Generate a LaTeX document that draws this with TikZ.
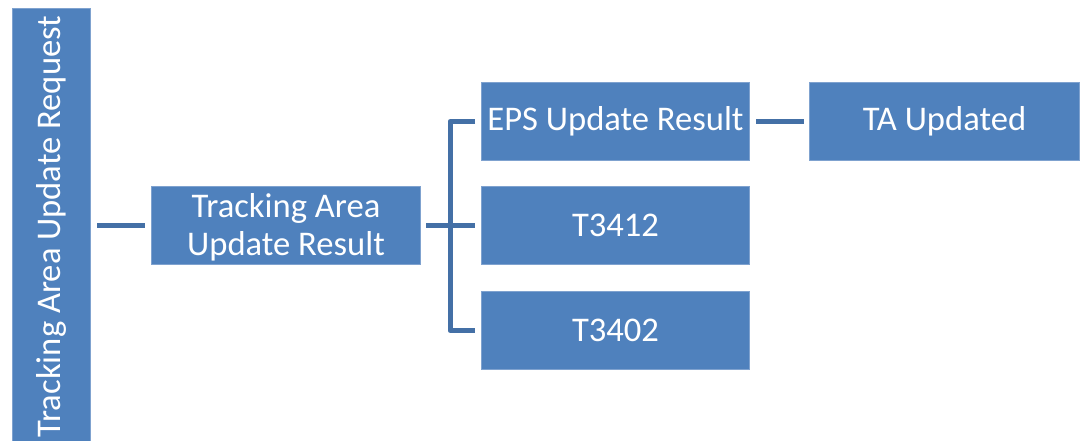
\documentclass[tikz,border=0pt]{standalone}
\usepackage{fontspec}
\setmainfont{Carlito}
\definecolor{boxblue}{HTML}{4F81BD}
\definecolor{boxedge}{HTML}{7FA2CF}
\definecolor{linkblue}{HTML}{4470A6}
\begin{document}
\begin{tikzpicture}[x=1pt,y=-1pt,
  blk/.style={fill=boxblue,draw=boxedge,line width=1pt,text=white,inner sep=0pt,
    font=\fontsize{34.6}{38}\selectfont,align=center},
  link/.style={draw=linkblue,line width=5pt}]
\useasboundingbox (0,0) rectangle (1080,440);
\node[blk,minimum width=78,minimum height=434,anchor=north west] (req) at (12,8) {};
\node[rotate=90,text=white,font=\fontsize{34.6}{38}\selectfont] (reqt) at ([yshift=-1]req.center) {Tracking Area Update Request};
\node[blk,minimum width=269,minimum height=78,anchor=north west] (taubg) at (151,186) {};
\node[text=white,font=\fontsize{34.6}{38}\selectfont,align=center,inner sep=0pt] (taut) at ([yshift=-1.5]taubg.center) {Tracking Area\\Update Result};
\node[blk,minimum width=268,minimum height=78,anchor=north west] (eps) at (481,82) {\raisebox{-1.5pt}{EPS Update Result}};
\node[blk,minimum width=268,minimum height=78,anchor=north west] (t12) at (481,186) {\raisebox{-1.5pt}{T3412}};
\node[blk,minimum width=268,minimum height=78,anchor=north west] (t02) at (481,291) {\raisebox{-1.5pt}{T3402}};
\node[blk,minimum width=270,minimum height=78,anchor=north west] (ta) at (809,82) {\raisebox{-1.5pt}{TA Updated}};
\coordinate (ra) at ([xshift=6]req.east|-taubg.west);
\coordinate (rb) at ([xshift=-6]taubg.west);
\draw[link] (ra) -- (rb);
\coordinate (bxtop) at (450,0);
\coordinate (bx) at (bxtop|-taubg.east);
\draw[link] ([xshift=5]taubg.east) -- (bx);
\coordinate (e1) at ([xshift=-6]eps.west);
\coordinate (t1) at ([xshift=-6]t12.west);
\coordinate (d1) at ([xshift=-6]t02.west);
\draw[link,line join=round] (e1) -- (bx|-e1) -- (bx|-d1) -- (d1);
\draw[link] (bx) -- (bx-|t1);
\draw[link] ([xshift=6]eps.east) -- ([xshift=-5]ta.west);
\end{tikzpicture}
\end{document}
